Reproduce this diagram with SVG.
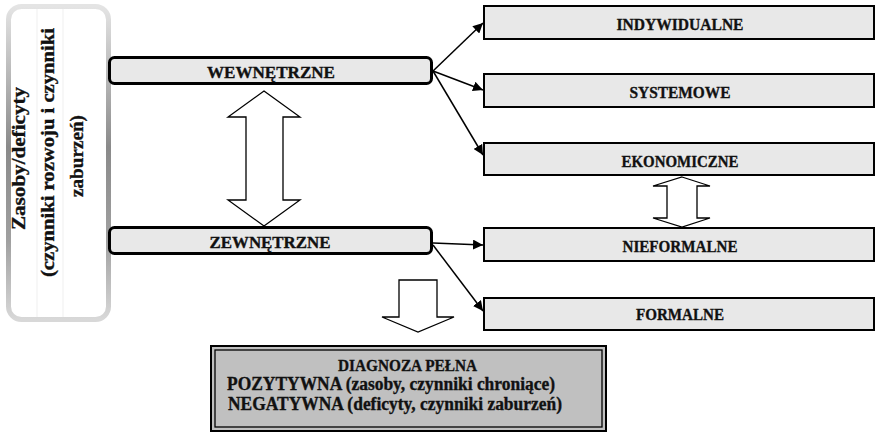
<svg xmlns="http://www.w3.org/2000/svg" width="876" height="433" viewBox="0 0 876 433">
<defs>
<linearGradient id="edge" x1="0" y1="0" x2="0" y2="1">
<stop offset="0" stop-color="#e4e4e4"/>
<stop offset="0.45" stop-color="#8a8a8a"/>
<stop offset="0.75" stop-color="#a0a0a0"/>
<stop offset="1" stop-color="#d8d8d8"/>
</linearGradient>
<marker id="ah" viewBox="0 0 10 10" refX="10" refY="5" markerWidth="10" markerHeight="10" markerUnits="userSpaceOnUse" orient="auto">
<path d="M0,0 L10,5 L0,10 z" fill="#000"/>
</marker>
<style>
text{font-family:"Liberation Serif","Times New Roman",serif;font-weight:bold;fill:#111;stroke:#111;stroke-width:0.35;}
.t{font-size:17px;text-anchor:middle;}
.v{font-size:18.5px;text-anchor:middle;}
.d{font-size:18px;}
.mid{fill:#e8e8e8;stroke:#000;stroke-width:3;}
.box{fill:#e8e8e8;stroke:#000;stroke-width:2;}
.blk{fill:#fff;stroke:#000;stroke-width:1.3;stroke-linejoin:miter;}
.con line{stroke:#000;stroke-width:1.5;marker-end:url(#ah);}
</style>
</defs>
<rect width="876" height="433" fill="#fff"/>

<g id="zasoby">
<rect x="8.5" y="6.5" width="100" height="313" rx="13" fill="#fff" stroke="url(#edge)" stroke-width="5"/>
<line x1="37" y1="9" x2="37" y2="317" stroke="#efefef" stroke-width="1"/>
<line x1="63" y1="9" x2="63" y2="317" stroke="#efefef" stroke-width="1"/>
<text class="v" transform="translate(25,158.5) rotate(-90)" textLength="143" lengthAdjust="spacingAndGlyphs">Zasoby/deficyty</text>
<text class="v" transform="translate(53.5,152.5) rotate(-90)" textLength="249" lengthAdjust="spacingAndGlyphs">(czynniki rozwoju i czynniki</text>
<text class="v" transform="translate(83,156) rotate(-90)" textLength="82" lengthAdjust="spacingAndGlyphs">zaburzeń)</text>
</g>

<g id="wewnetrzne">
<rect class="mid" x="109.5" y="57.5" width="322" height="26" rx="5"/>
<text class="t" x="271" y="77.5" textLength="128" lengthAdjust="spacingAndGlyphs">WEWNĘTRZNE</text>
</g>
<g id="zewnetrzne">
<rect class="mid" x="109.5" y="227.5" width="322" height="26" rx="5"/>
<text class="t" x="270" y="247.5" textLength="121" lengthAdjust="spacingAndGlyphs">ZEWNĘTRZNE</text>
</g>

<g id="indywidualne">
<rect class="box" x="484" y="6" width="390" height="33"/>
<text class="t" x="680" y="30" textLength="127" lengthAdjust="spacingAndGlyphs">INDYWIDUALNE</text>
</g>
<g id="systemowe">
<rect class="box" x="484" y="74" width="390" height="33"/>
<text class="t" x="680" y="98" textLength="101" lengthAdjust="spacingAndGlyphs">SYSTEMOWE</text>
</g>
<g id="ekonomiczne">
<rect class="box" x="484" y="143" width="390" height="32"/>
<text class="t" x="680" y="166.5" textLength="117" lengthAdjust="spacingAndGlyphs">EKONOMICZNE</text>
</g>
<g id="nieformalne">
<rect class="box" x="484" y="228" width="390" height="33"/>
<text class="t" x="680" y="251.5" textLength="115" lengthAdjust="spacingAndGlyphs">NIEFORMALNE</text>
</g>
<g id="formalne">
<rect class="box" x="484" y="298" width="390" height="32"/>
<text class="t" x="680" y="320" textLength="88" lengthAdjust="spacingAndGlyphs">FORMALNE</text>
</g>

<g id="diagnoza">
<rect x="211" y="346" width="395" height="85" fill="#c0c0c0" stroke="#000" stroke-width="2"/>
<rect x="215" y="350" width="387" height="77" fill="none" stroke="#000" stroke-width="1.3"/>
<text class="t" x="407.5" y="371" textLength="139" lengthAdjust="spacingAndGlyphs">DIAGNOZA PEŁNA</text>
<text class="d" x="227" y="390" textLength="328" lengthAdjust="spacingAndGlyphs">POZYTYWNA (zasoby, czynniki chroniące)</text>
<text class="d" x="228" y="410" textLength="334" lengthAdjust="spacingAndGlyphs">NEGATYWNA (deficyty, czynniki zaburzeń)</text>
</g>

<g id="connectors" class="con">
<line x1="433" y1="71" x2="483" y2="23"/>
<line x1="433" y1="71" x2="483" y2="90"/>
<line x1="433" y1="71" x2="483" y2="155"/>
<line x1="433" y1="243" x2="483" y2="245"/>
<line x1="433" y1="245" x2="483" y2="311"/>
<polygon class="blk" points="264,91 300,117 283,117 283,200 300,200 264,226 228,200 246,200 246,117 228,117"/>
<polygon class="blk" points="682,177 710,186 697,186 697,218 710,218 682,227 653,218 667,218 667,186 653,186"/>
<polygon class="blk" points="399,280 437,280 437,317 454,317 418,332 382,317 399,317"/>
</g>
</svg>
